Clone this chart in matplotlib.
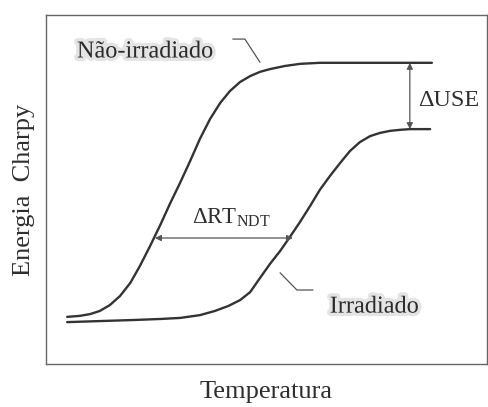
import matplotlib
matplotlib.use('Agg')
import matplotlib.pyplot as plt
import matplotlib.patheffects as pe

plt.rcParams['font.family'] = ['Liberation Serif', 'DejaVu Serif']
plt.rcParams['mathtext.fontset'] = 'custom'
plt.rcParams['mathtext.rm'] = 'Liberation Serif'

# curves (temperature / energy, arbitrary 0-100 units)
temp_unirr = [4.8, 7.7, 10.0, 12.2, 14.5, 16.8, 19.1, 21.3, 23.6, 25.9, 28.1,
              30.4, 32.7, 34.9, 37.2, 39.5, 41.7, 44.0, 46.3, 48.5, 50.8,
              54.2, 57.6, 62.1, 71.2, 87.5]
energy_unirr = [13.5, 13.8, 14.3, 15.2, 16.9, 19.5, 23.2, 28.1, 33.8, 39.8, 45.9,
                51.9, 58.2, 64.5, 70.2, 74.8, 78.2, 80.8, 82.5, 83.7, 84.5,
                85.4, 86.0, 86.3, 86.3, 86.3]

temp_irr = [4.8, 12.2, 19.7, 25.9, 30.4, 34.9, 38.3, 41.3, 44.0, 46.3, 48.5,
            50.8, 53.1, 55.3, 57.6, 59.9, 62.1, 64.4, 66.7, 68.9, 71.2, 73.5,
            75.7, 78.0, 80.3, 82.5, 87.1]
energy_irr = [12.0, 12.3, 12.6, 12.9, 13.2, 14.0, 15.2, 16.6, 18.3, 20.6, 24.6,
              28.7, 32.4, 36.4, 40.7, 45.3, 49.9, 53.9, 57.6, 61.0, 63.6, 65.3,
              66.2, 66.8, 67.1, 67.3, 67.3]

line_c = '#333333'
thin_c = '#555555'
text_c = '#2e2e2e'

fig = plt.figure(figsize=(4.88, 4.07), dpi=100)
ax = fig.add_axes([46/488, 43/407, 441/488, 349/407])

ax.plot(temp_unirr, energy_unirr, color=line_c, lw=1.7, solid_capstyle='round',
        solid_joinstyle='round')
ax.plot(temp_irr, energy_irr, color=line_c, lw=1.7, solid_capstyle='round',
        solid_joinstyle='round')

ax.set_xlim(0, 100)
ax.set_ylim(0, 100)
ax.set_xticks([])
ax.set_yticks([])
for s in ax.spines.values():
    s.set_color('#666666')
    s.set_linewidth(1.0)

ax.set_xlabel('Temperatura', fontsize=19, color=text_c, labelpad=12)
ax.set_ylabel('Energia  Charpy', fontsize=19, color=text_c, labelpad=8)

# delta RT_NDT arrow
arr = dict(arrowstyle='<|-|>', color=thin_c, lw=0.9, mutation_scale=9,
           shrinkA=0, shrinkB=0)
ax.annotate('', xy=(24.7, 36.1), xytext=(56.0, 36.1), arrowprops=arr)
ax.text(42.0, 42.0, r'$\Delta$RT$_{\rm NDT}$', fontsize=16.5, color=text_c,
        ha='center', va='center')

# delta USE arrow
ax.annotate('', xy=(82.5, 86.3), xytext=(82.5, 67.3), arrowprops=arr)
ax.text(84.4, 75.6, '\u0394USE', fontsize=17.5, color=text_c, ha='left', va='center')

# labels with leader lines (scan smudge around them)
halo = [pe.withStroke(linewidth=5, foreground='#e4e4e4')]
ax.text(22.4, 89.4, 'Não-irradiado', fontsize=17.5, color='#2a2a2a',
        ha='center', va='center', path_effects=halo)
ax.plot([42.4, 45.1, 48.5], [93.1, 93.1, 86.5], color=thin_c, lw=0.9)

ax.text(74.4, 16.3, 'Irradiado', fontsize=17.5, color='#2a2a2a',
        ha='center', va='center', path_effects=halo)
ax.plot([53.1, 56.9, 60.5], [26.1, 21.2, 21.2], color=thin_c, lw=0.9)

fig.savefig('out.png', dpi=100)
